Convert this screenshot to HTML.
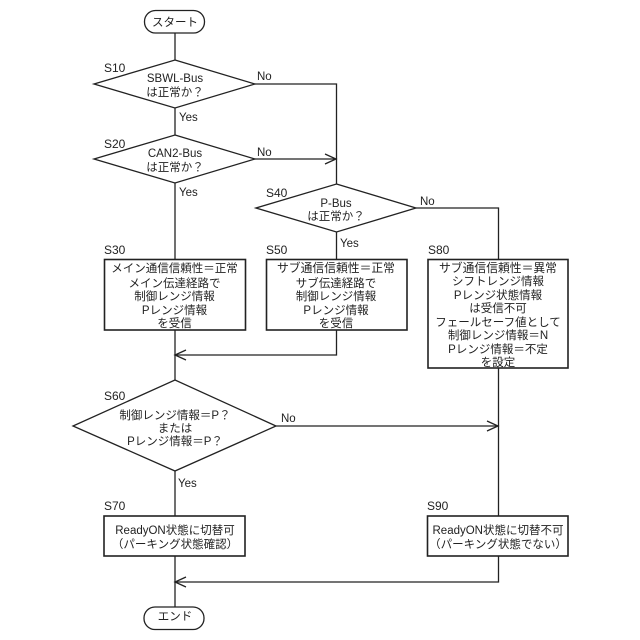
<!DOCTYPE html>
<html lang="ja">
<head>
<meta charset="utf-8">
<style>
html,body{margin:0;padding:0;background:#fff;}
svg{display:block;}
text{font-family:"Liberation Sans","Noto Sans CJK JP",sans-serif;font-size:11.5px;fill:#222;}
.c{text-anchor:middle;}
.s{font-size:12px;}
.w{font-size:11.8px;}
.l{fill:none;stroke:#222;stroke-width:1.3;}
.b{stroke-width:1.6;}
</style>
</head>
<body>
<svg width="640" height="640" viewBox="0 0 640 640" xmlns="http://www.w3.org/2000/svg">
<g class="l">
<rect x="144.500" y="10.500" width="60" height="22.500" rx="11" ry="11"/>
<path d="M175 33V60"/>
<polygon points="175,60 255,84 175,108 94,84"/>
<path d="M175 108V135"/>
<polygon points="175,135 255,159 175,183 94,159"/>
<path d="M255 84H336.500V184"/>
<path d="M255 159H336"/>
<path d="M325 154L336 159L325 164"/>
<polygon points="336.500,184 416,208 336.500,232 256,208"/>
<path d="M175 183V259"/>
<path d="M336.500 232V259"/>
<path d="M416 208H498.500V259"/>
<rect class="b" x="104.500" y="259.500" width="141" height="70.500"/>
<rect class="b" x="266.500" y="259.500" width="140.500" height="70.500"/>
<rect class="b" x="428" y="259.500" width="140" height="108.500"/>
<path d="M175 330V380"/>
<path d="M336.500 330V355H175"/>
<path d="M186 350L175 355L186 360"/>
<polygon points="175,380 276,426 175,471 73,426"/>
<path d="M276 426H498"/>
<path d="M487 421L498 426L487 431"/>
<path d="M498.500 368V516"/>
<path d="M175 471V516"/>
<rect class="b" x="104" y="516" width="141" height="40"/>
<rect class="b" x="427.500" y="516" width="140.500" height="40"/>
<path d="M175 556V607"/>
<path d="M498.500 556V582H175"/>
<path d="M186 577L175 582L186 587"/>
<rect x="144" y="607" width="60" height="22.500" rx="11" ry="11"/>
</g>

<text class="c" x="175" y="26">スタート</text>
<text class="c" x="175" y="620">エンド</text>

<text class="s" x="104" y="72">S10</text>
<text class="s" x="104" y="148">S20</text>
<text class="s" x="266" y="197">S40</text>
<text class="s" x="104" y="254">S30</text>
<text class="s" x="266" y="254">S50</text>
<text class="s" x="428" y="254">S80</text>
<text class="s" x="104" y="400">S60</text>
<text class="s" x="104" y="510">S70</text>
<text class="s" x="427" y="510">S90</text>

<text x="257" y="80">No</text>
<text x="257" y="156">No</text>
<text x="420" y="205">No</text>
<text x="281" y="422">No</text>
<text x="179" y="121">Yes</text>
<text x="179" y="196">Yes</text>
<text x="340" y="247">Yes</text>
<text x="178" y="487">Yes</text>

<text class="c" x="175" y="82">SBWL-Bus</text>
<text class="c" x="175" y="96">は正常か？</text>
<text class="c" x="175" y="157">CAN2-Bus</text>
<text class="c" x="175" y="171">は正常か？</text>
<text class="c" x="336" y="207">P-Bus</text>
<text class="c" x="336" y="220">は正常か？</text>

<text class="c" x="174.500" y="272">メイン通信信頼性＝正常</text>
<text class="c" x="174.500" y="287">メイン伝達経路で</text>
<text class="c" x="174.500" y="300">制御レンジ情報</text>
<text class="c" x="174.500" y="314">Pレンジ情報</text>
<text class="c" x="174.500" y="327">を受信</text>

<text class="c w" x="336" y="272">サブ通信信頼性＝正常</text>
<text class="c" x="336" y="287">サブ伝達経路で</text>
<text class="c" x="336" y="300">制御レンジ情報</text>
<text class="c" x="336" y="314">Pレンジ情報</text>
<text class="c" x="336" y="327">を受信</text>

<text class="c w" x="498" y="272">サブ通信信頼性＝異常</text>
<text class="c" x="498" y="285">シフトレンジ情報</text>
<text class="c" x="498" y="299">Pレンジ状態情報</text>
<text class="c" x="498" y="312">は受信不可</text>
<text class="c" x="498" y="326">フェールセーフ値として</text>
<text class="c" x="498" y="339">制御レンジ情報＝N</text>
<text class="c" x="498" y="353">Pレンジ情報＝不定</text>
<text class="c" x="498" y="366">を設定</text>

<text class="c" x="175" y="419">制御レンジ情報＝P？</text>
<text class="c" x="175" y="432">または</text>
<text class="c" x="175" y="445">Pレンジ情報＝P？</text>

<text class="c" x="175" y="534">ReadyON状態に切替可</text>
<text class="c" x="175" y="548">（パーキング状態確認）</text>
<text class="c" x="498" y="534">ReadyON状態に切替不可</text>
<text class="c" x="498" y="548">（パーキング状態でない）</text>
</svg>
</body>
</html>
